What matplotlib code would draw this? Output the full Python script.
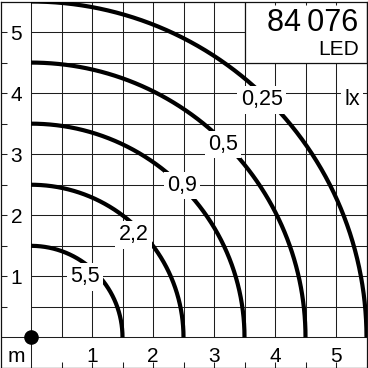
import matplotlib
matplotlib.use('Agg')
import matplotlib.pyplot as plt
import numpy as np
from matplotlib.patches import Rectangle

plt.rcParams['font.family'] = ['Liberation Sans', 'DejaVu Sans']

# data
radii = [1.5, 2.5, 3.5, 4.5, 5.5]
lux_labels = ['5,5', '2,2', '0,9', '0,5', '0,25']
label_x = [0.885, 1.68, 2.48, 3.15, 3.78]
label_y = [0.90, 1.59, 2.40, 3.07, 3.80]
tick_vals = [1, 2, 3, 4, 5]
tick_labels = ['1', '2', '3', '4', '5']
product = '84\u2009076'
product_sub = 'LED'
unit_label = 'lx'
axis_unit = 'm'

fig = plt.figure(figsize=(3.68, 3.68), dpi=100)
ax = fig.add_axes([0.5 / 368, 0.0, 366 / 368, 366.5 / 368])
lo, hi = -0.5, 5.5
ax.set_xlim(lo, hi)
ax.set_ylim(lo, hi)
ax.set_xticks([])
ax.set_yticks([])
for s in ax.spines.values():
    s.set_linewidth(0.9)
    s.set_color('#111111')

gcol = '#1e1e1e'
glw = 0.75
steps = np.arange(0.5, 5.01, 0.5)
ax.vlines(steps, 0, hi, color=gcol, lw=glw, zorder=0.8)
ax.hlines(steps, 0, hi, color=gcol, lw=glw, zorder=0.8)
ax.vlines([0], lo, hi, color=gcol, lw=glw, zorder=0.8)
ax.hlines([0], lo, hi, color=gcol, lw=glw, zorder=0.8)
# edge ticks
ax.vlines(steps, lo, lo + 0.1, color=gcol, lw=glw, zorder=0.8)
ax.hlines(steps, lo, lo + 0.1, color=gcol, lw=glw, zorder=0.8)

# info box
ax.add_patch(Rectangle((3.5, 4.5), 2.0, 1.0, facecolor='white', edgecolor='#111111',
                       lw=0.9, zorder=1))
ax.vlines([4.0, 4.5, 5.0], hi - 0.05, hi, color=gcol, lw=glw, zorder=1.2)

theta = np.linspace(0, np.pi / 2, 300)
for r in radii:
    ax.plot(r * np.cos(theta), r * np.sin(theta), color='black', lw=3,
            solid_capstyle='butt', zorder=3)

bb = dict(boxstyle='square,pad=0.15', fc='white', ec='none')
for lab, x, y in zip(lux_labels, label_x, label_y):
    ax.text(x, y, lab, ha='center', va='baseline', fontsize=15.5, bbox=bb, zorder=5)

ax.text(5.26, 3.81, unit_label, ha='center', va='baseline', fontsize=15.5, bbox=bb, zorder=5)

ax.text(5.37, 5.01, product, ha='right', va='baseline', fontsize=22, zorder=5)
ax.text(5.37, 4.63, product_sub, ha='right', va='baseline', fontsize=15, zorder=5)

for v, t in zip(tick_vals, tick_labels):
    ax.text(v, -0.40, t, ha='center', va='baseline', fontsize=15, zorder=5)
    ax.text(-0.24, v - 0.125, t, ha='center', va='baseline', fontsize=15, zorder=5)
ax.text(-0.24, -0.40, axis_unit, ha='center', va='baseline', fontsize=15, zorder=5)

ax.plot([0], [0], 'o', color='black', ms=9.5, zorder=6, clip_on=False)

fig.savefig('out.png', dpi=100)
